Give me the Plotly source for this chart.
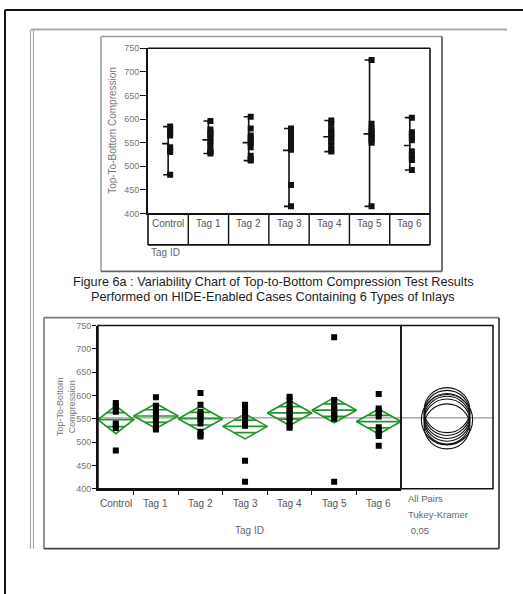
import numpy as np
import plotly.graph_objects as go

# ---------------- data ----------------
groups = ["Control", "Tag 1", "Tag 2", "Tag 3", "Tag 4", "Tag 5", "Tag 6"]
control = [482, 530, 535, 540, 565, 570, 578, 584]
tag1 = [527, 530, 533, 545, 552, 560, 566, 572, 578, 596]
tag2 = [512, 515, 522, 540, 550, 552, 560, 565, 580, 605]
tag3 = [415, 460, 535, 545, 550, 555, 560, 565, 572, 580]
tag4 = [531, 535, 545, 552, 560, 565, 572, 578, 590, 597]
tag5 = [415, 550, 555, 560, 565, 570, 575, 580, 590, 725]
tag6 = [492, 513, 518, 525, 532, 555, 562, 568, 572, 603]
y_ticks = [400, 450, 500, 550, 600, 650, 700, 750]
y_title = "Top-To-Bottom Compression"
y_title_lower = "Top-To-Bottom<br>Compression"
x_title = "Tag ID"
caption = ["Figure 6a : Variability Chart of Top-to-Bottom Compression Test Results",
           "Performed on HIDE-Enabled Cases Containing 6 Types of Inlays"]
compare_lines = ["All Pairs", "Tukey-Kramer", " 0,05"]
t_crit = 2.0      # means diamonds (95%)
q_crit = 3.6      # comparison circles (Tukey-Kramer, 0.05)
overlap_frac = 0.5

data = [control, tag1, tag2, tag3, tag4, tag5, tag6]

# ---------------- page geometry (pixels) ----------------
W, H = 523, 594
FONT = "Liberation Sans, Arial, sans-serif"


def px(x):
    return x / W


def py(y):
    return 1 - y / H


U_L, U_R, U_T, U_B, U_BOX = 148, 430, 44, 212, 244
L_L, L_R, L_RR, L_T, L_B = 98, 401, 493, 326, 492

fig = go.Figure()

# ---------------- upper: variability chart ----------------
ppu = (U_R - U_L) / len(groups)          # px per category
lx, ly = [], []
for i, vals in enumerate(data):
    c = i + 0.5
    lo, hi, m = min(vals), max(vals), float(np.mean(vals))
    lx += [c, c, None]
    ly += [lo, hi, None]
    for v in (lo, hi):
        lx += [c - 5 / ppu, c + 4 / ppu, None]
        ly += [v, v, None]
    lx += [c - 6 / ppu, c + 1 / ppu, None]
    ly += [m, m, None]
fig.add_trace(go.Scatter(x=lx, y=ly, mode="lines", line=dict(color="#111", width=1.6),
                         xaxis="x", yaxis="y", hoverinfo="skip"))
px_pts, py_pts = [], []
for i, vals in enumerate(data):
    for v in vals:
        px_pts.append(i + 0.5 + 2 / ppu)
        py_pts.append(v)
fig.add_trace(go.Scatter(x=px_pts, y=py_pts, mode="markers",
                         marker=dict(symbol="square", size=6, color="#111", line=dict(width=0)),
                         xaxis="x", yaxis="y"))

# ---------------- lower: oneway analysis ----------------
ns = [len(v) for v in data]
N = sum(ns)
edges = np.concatenate([[0], np.cumsum(ns)])
centers = (edges[:-1] + edges[1:]) / 2
means = [float(np.mean(v)) for v in data]
ss = sum(float(np.sum((np.array(v) - np.mean(v)) ** 2)) for v in data)
s_pooled = np.sqrt(ss / (N - len(data)))
grand = float(np.mean(np.concatenate([np.array(v, float) for v in data])))

green = "#23962a"
for i, vals in enumerate(data):
    a, b, c, m = edges[i], edges[i + 1], centers[i], means[i]
    ci = t_crit * s_pooled / np.sqrt(ns[i])
    dx = [a, c, b, c, a, None, a, b, None]
    dy = [m, m + ci, m, m - ci, m, None, m, m, None]
    for sgn in (1, -1):
        half = (b - a) / 2 * (1 - overlap_frac)
        dx += [c - half, c + half, None]
        dy += [m + sgn * ci * overlap_frac] * 2 + [None]
    fig.add_trace(go.Scatter(x=dx, y=dy, mode="lines", line=dict(color=green, width=1.7),
                             xaxis="x2", yaxis="y2", hoverinfo="skip"))

lpx, lpy = [], []
for i, vals in enumerate(data):
    for v in vals:
        lpx.append(centers[i])
        lpy.append(v)
fig.add_trace(go.Scatter(x=lpx, y=lpy, mode="markers",
                         marker=dict(symbol="square", size=6, color="#000", line=dict(width=0)),
                         xaxis="x2", yaxis="y2"))

shapes = []
# grand mean line across both panels
shapes.append(dict(type="line", xref="paper", yref="y2", x0=px(L_L), x1=px(L_RR), y0=grand, y1=grand,
                   line=dict(color="#999", width=1.2), layer="below"))
# comparison circles
px_per_y = (L_B - L_T) / (y_ticks[-1] - y_ticks[0])
panel_w = L_RR - L_R
for i in range(len(data)):
    r = q_crit * s_pooled / np.sqrt(ns[i])
    rx = r * px_per_y / panel_w
    shapes.append(dict(type="circle", xref="x3", yref="y2", x0=0.5 - rx, x1=0.5 + rx,
                       y0=means[i] - r, y1=means[i] + r, line=dict(color="#111", width=1.1)))

# ---------------- frames and decorations ----------------
def line(x0, y0, x1, y1, color, width):
    shapes.append(dict(type="line", xref="paper", yref="paper", x0=px(x0), y0=py(y0),
                       x1=px(x1), y1=py(y1), line=dict(color=color, width=width)))


def rect(x0, y0, x1, y1, color, width):
    shapes.append(dict(type="rect", xref="paper", yref="paper", x0=px(x0), y0=py(y0),
                       x1=px(x1), y1=py(y1), line=dict(color=color, width=width)))


# outer black frame
line(5, 5, 530, 5, "#111", 2)
line(5, 5, 5, 600, "#111", 2)
# document gray frame
line(31, 25, 507, 25, "#aaa", 2)
line(30.5, 25, 30.5, 553, "#aaa", 1.2)
line(33.5, 25, 33.5, 553, "#aaa", 1.2)
# upper figure frame
line(101, 32, 442, 32, "#999", 1.5)
line(101, 32, 101, 271, "#999", 1.5)
line(442, 32, 442, 271, "#666", 1.8)
line(101, 271, 442, 271, "#666", 1.8)
# upper plot frame and category box
line(U_L, U_T, U_R, U_T, "#111", 1.6)
line(U_R, U_T, U_R, U_BOX, "#111", 1.6)
line(U_L, U_BOX, U_R, U_BOX, "#111", 1.6)
line(U_L, U_B, U_L, U_BOX, "#111", 1.6)
for k in range(1, len(groups)):
    shapes.append(dict(type="line", xref="x", yref="paper", x0=k, x1=k, y0=py(U_B), y1=py(U_BOX),
                       line=dict(color="#111", width=1.4)))
# lower figure frame
line(44, 318, 499, 318, "#777", 1.6)
line(44, 318, 44, 553, "#777", 1.6)
line(499, 318, 499, 553, "#444", 1.8)
line(44, 553, 499, 553, "#444", 1.8)
# lower panels
rect(L_L, L_T, L_R, L_B, "#111", 1.5)
rect(L_R, L_T, L_RR, L_B, "#111", 1.5)

# ---------------- text ----------------
ann = []
for i, g in enumerate(groups):
    ann.append(dict(text=g, xref="x", yref="paper", x=i + 0.5, y=py(222), showarrow=False,
                    font=dict(size=10, color="#555", family=FONT), xanchor="center", yanchor="middle"))
    ann.append(dict(text=g, xref="x2", yref="paper", x=centers[i], y=py(507), showarrow=False,
                    font=dict(size=10, color="#555", family=FONT), xanchor="center", yanchor="middle"))
ann.append(dict(text=x_title, xref="paper", yref="paper", x=px(149), y=py(252), showarrow=False,
                font=dict(size=10, color="#666", family=FONT), xanchor="left", yanchor="middle"))
ann.append(dict(text=x_title, xref="paper", yref="paper", x=px((L_L + L_R) / 2), y=py(535), showarrow=False,
                font=dict(size=10, color="#666", family=FONT), xanchor="center", yanchor="middle"))
ann.append(dict(text=y_title, xref="paper", yref="paper", x=px(113), y=py((U_T + U_B) / 2),
                showarrow=False, textangle=-90,
                font=dict(size=10, color="#777", family=FONT), xanchor="center", yanchor="middle"))
ann.append(dict(text=y_title_lower, xref="paper", yref="paper", x=px(66), y=py((L_T + L_B) / 2),
                showarrow=False, textangle=-90,
                font=dict(size=9, color="#777", family=FONT), xanchor="center", yanchor="middle"))
for j, t in enumerate(caption):
    ann.append(dict(text=t, xref="paper", yref="paper", x=px(273), y=py(282 + 14.5 * j), showarrow=False,
                    font=dict(size=12.7, color="#222", family=FONT), xanchor="center", yanchor="middle"))
for j, t in enumerate(compare_lines):
    ann.append(dict(text=t, xref="paper", yref="paper", x=px(406), y=py(502 + 16 * j), showarrow=False,
                    font=dict(size=9.5, color="#666", family=FONT), xanchor="left", yanchor="middle"))

yaxis_common = dict(range=[y_ticks[0], y_ticks[-1]], tickvals=y_ticks, ticks="outside", ticklen=6,
                    tickwidth=1.4, tickcolor="#111", showline=True, linecolor="#111", linewidth=2,
                    showgrid=False, zeroline=False, ticklabelstandoff=-1,
                    tickfont=dict(size=9, color="#777", family=FONT))

fig.update_layout(
    width=W, height=H, autosize=False,
    margin=dict(l=0, r=0, t=0, b=0),
    paper_bgcolor="white", plot_bgcolor="white",
    showlegend=False,
    xaxis=dict(domain=[px(U_L), px(U_R)], range=[0, len(groups)], showticklabels=False, ticks="",
               showgrid=False, zeroline=False, showline=True, linecolor="#111", linewidth=1.6,
               anchor="y"),
    yaxis=dict(domain=[py(U_B), py(U_T)], anchor="x", **yaxis_common),
    xaxis2=dict(domain=[px(L_L), px(L_R)], range=[0, N], tickvals=list(edges[1:-1]), ticktext=[""] * (len(edges) - 2),
                ticks="outside", ticklen=5, tickwidth=1.4, tickcolor="#111", showgrid=False, zeroline=False,
                showline=True, linecolor="#111", linewidth=1.5, anchor="y2"),
    yaxis2=dict(domain=[py(L_B), py(L_T)], anchor="x2", **yaxis_common),
    xaxis3=dict(domain=[px(L_R), px(L_RR)], range=[0, 1], showticklabels=False, ticks="",
                showgrid=False, zeroline=False, showline=False, anchor="y2"),
    shapes=shapes,
    annotations=ann,
)
fig.update_yaxes(ticklen=4, selector=dict(anchor="x2"))

fig.write_html("out.html", config={"displayModeBar": False},
               post_script="document.body.style.margin='0';document.body.style.overflow='hidden';")
